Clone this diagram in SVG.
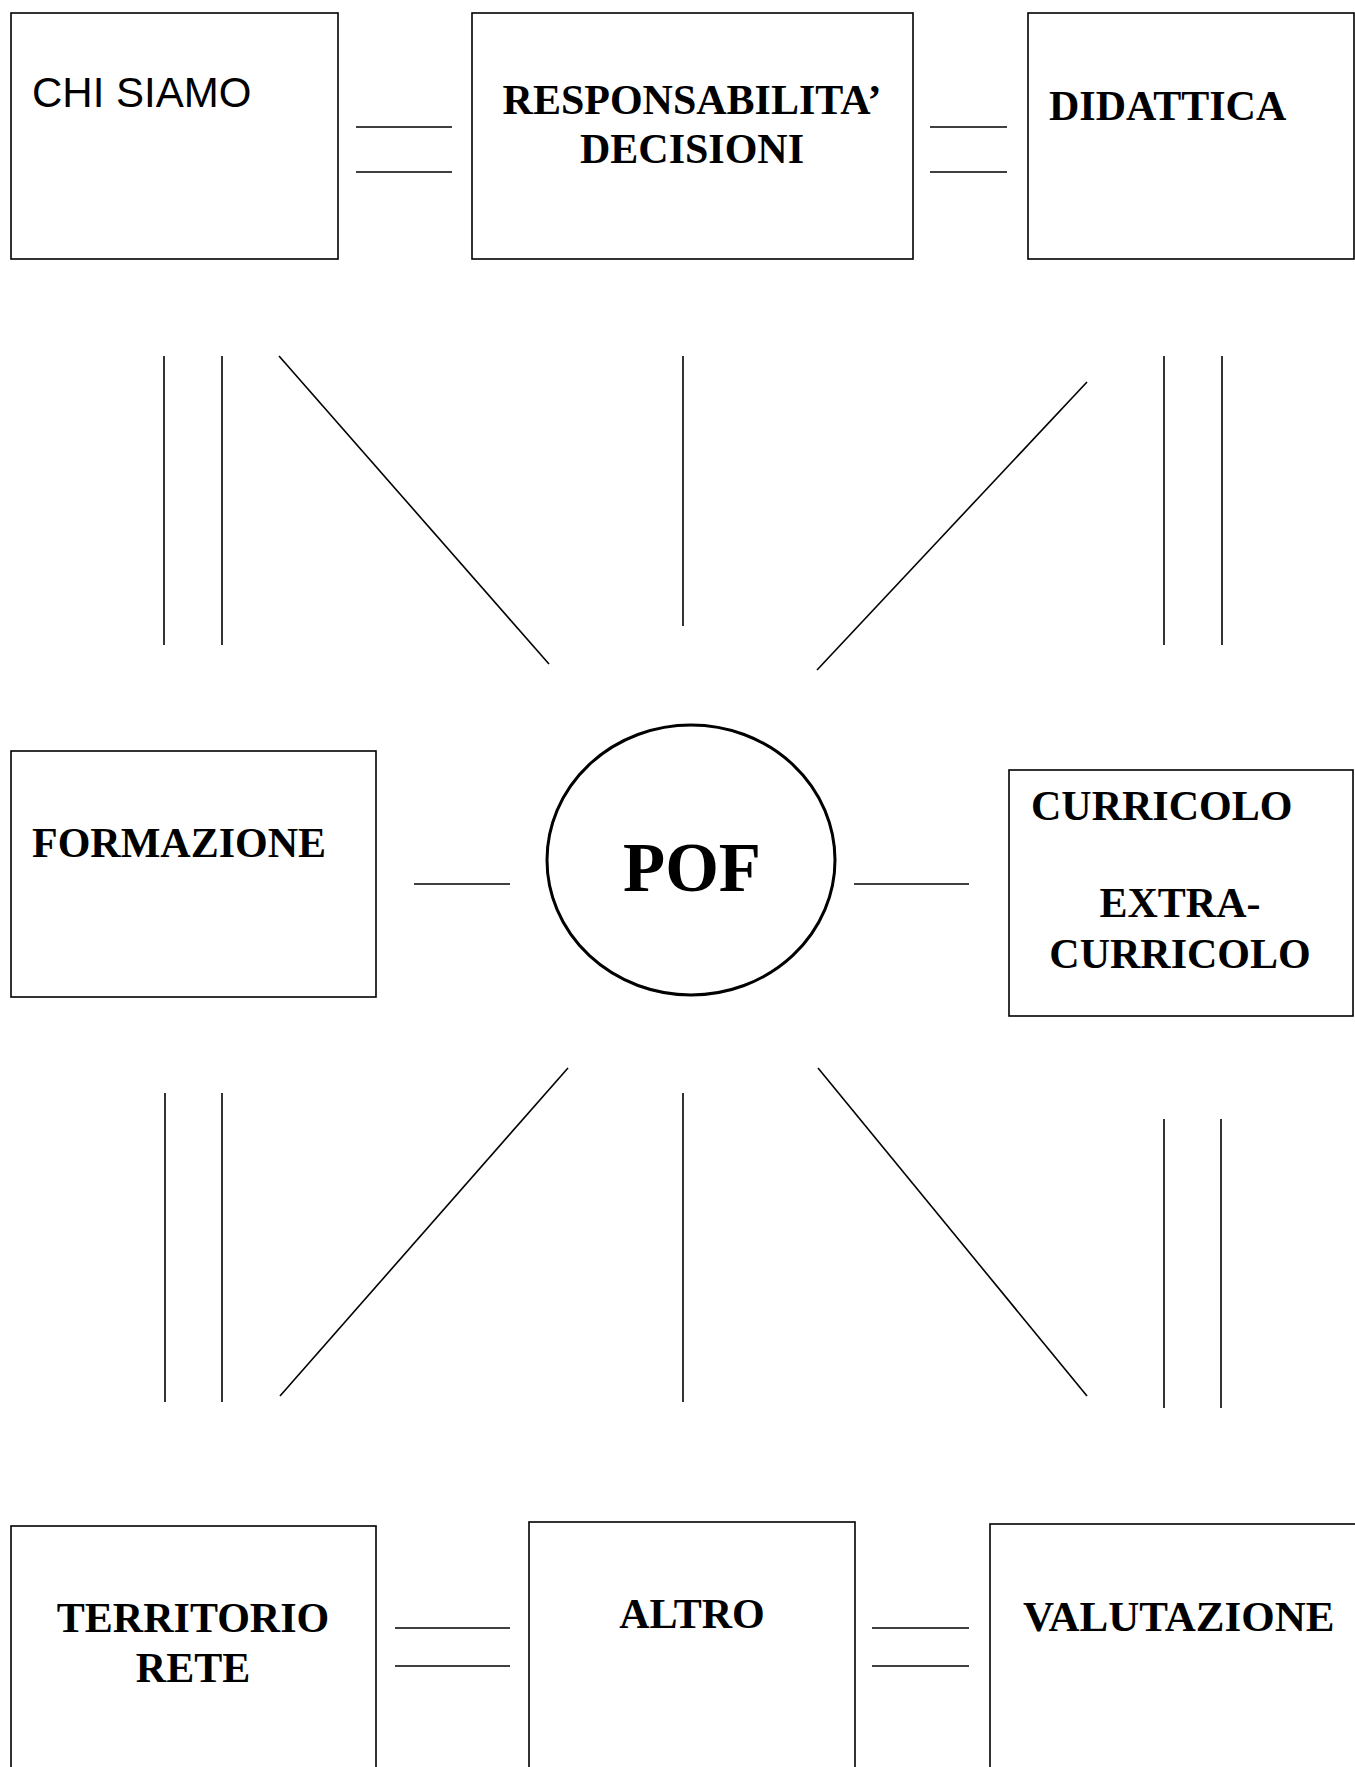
<svg xmlns="http://www.w3.org/2000/svg" width="1355" height="1767" viewBox="0 0 1355 1767">
<style>
.box{fill:#fff;stroke:#000;stroke-width:1.6}
.t{font-family:"Liberation Serif","Times New Roman",serif;font-weight:bold;font-size:42px;fill:#000}
.s{font-family:"Liberation Sans",Arial,sans-serif;font-size:42px;fill:#000}
.c line{stroke:#000;stroke-width:1.6}
</style>
<rect width="1355" height="1767" fill="#fff"/>
<g class="c" id="connectors">
<line x1="356" y1="127" x2="452" y2="127"/>
<line x1="356" y1="172" x2="452" y2="172"/>
<line x1="930" y1="127" x2="1007" y2="127"/>
<line x1="930" y1="172" x2="1007" y2="172"/>
<line x1="164" y1="356" x2="164" y2="645"/>
<line x1="222" y1="356" x2="222" y2="645"/>
<line x1="279" y1="356" x2="549" y2="664"/>
<line x1="683" y1="356" x2="683" y2="626"/>
<line x1="1087" y1="382" x2="817" y2="670"/>
<line x1="1164" y1="356" x2="1164" y2="645"/>
<line x1="1222" y1="356" x2="1222" y2="645"/>
<line x1="414" y1="884" x2="510" y2="884"/>
<line x1="854" y1="884" x2="969" y2="884"/>
<line x1="165" y1="1093" x2="165" y2="1402"/>
<line x1="222" y1="1093" x2="222" y2="1402"/>
<line x1="568" y1="1068" x2="280" y2="1396"/>
<line x1="683" y1="1093" x2="683" y2="1402"/>
<line x1="818" y1="1068" x2="1087" y2="1396"/>
<line x1="1164" y1="1119" x2="1164" y2="1408"/>
<line x1="1221" y1="1119" x2="1221" y2="1408"/>
<line x1="395" y1="1628" x2="510" y2="1628"/>
<line x1="395" y1="1666" x2="510" y2="1666"/>
<line x1="872" y1="1628" x2="969" y2="1628"/>
<line x1="872" y1="1666" x2="969" y2="1666"/>
</g>
<g id="chi-siamo">
<rect class="box" x="11" y="13" width="327" height="246"/>
<text class="s" x="32" y="107">CHI SIAMO</text>
</g>
<g id="responsabilita">
<rect class="box" x="472" y="13" width="441" height="246"/>
<text class="t" x="692" y="114" text-anchor="middle">RESPONSABILITA’</text>
<text class="t" x="692" y="163" text-anchor="middle">DECISIONI</text>
</g>
<g id="didattica">
<rect class="box" x="1028" y="13" width="326" height="246"/>
<text class="t" x="1049" y="120">DIDATTICA</text>
</g>
<g id="formazione">
<rect class="box" x="11" y="751" width="365" height="246"/>
<text class="t" x="32" y="857">FORMAZIONE</text>
</g>
<g id="pof">
<ellipse cx="691" cy="860" rx="144" ry="135" fill="#fff" stroke="#000" stroke-width="3"/>
<text class="t" x="692" y="891" text-anchor="middle" style="font-size:69px">POF</text>
</g>
<g id="curricolo">
<rect class="box" x="1009" y="770" width="344" height="246"/>
<text class="t" x="1031" y="820">CURRICOLO</text>
<text class="t" x="1180" y="917" text-anchor="middle">EXTRA-</text>
<text class="t" x="1180" y="968" text-anchor="middle">CURRICOLO</text>
</g>
<g id="territorio">
<rect class="box" x="11" y="1526" width="365" height="260"/>
<text class="t" x="193" y="1632" text-anchor="middle">TERRITORIO</text>
<text class="t" x="193" y="1682" text-anchor="middle">RETE</text>
</g>
<g id="altro">
<rect class="box" x="529" y="1522" width="326" height="264"/>
<text class="t" x="692" y="1628" text-anchor="middle">ALTRO</text>
</g>
<g id="valutazione">
<rect class="box" x="990" y="1524" width="380" height="262"/>
<text class="t" x="1023" y="1631" style="font-size:43px">VALUTAZIONE</text>
</g>
</svg>
